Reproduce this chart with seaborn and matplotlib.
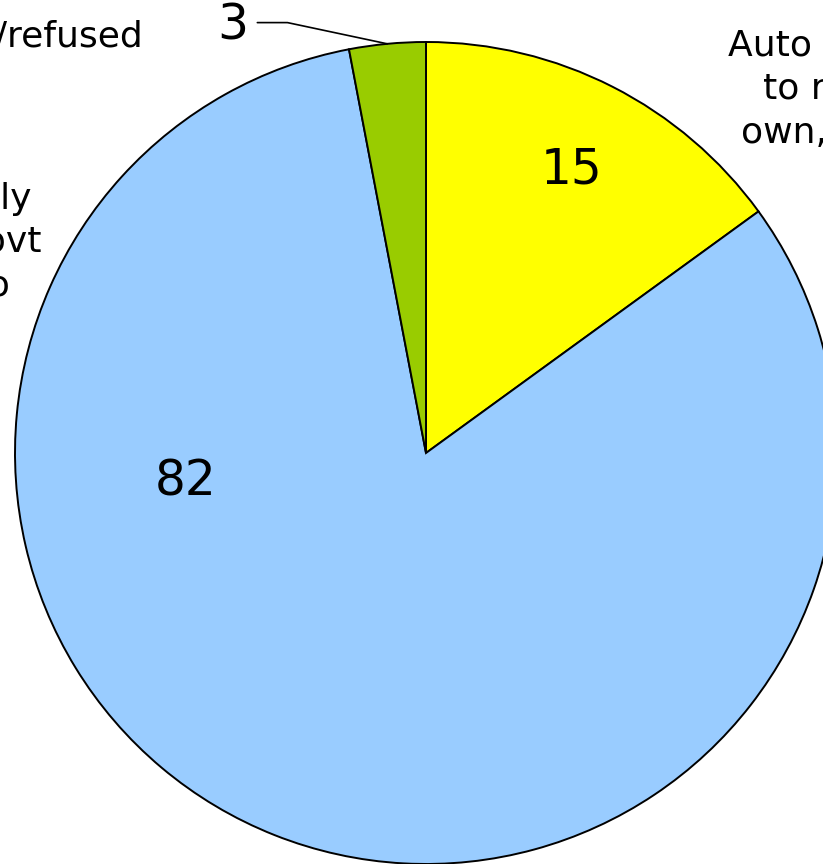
import numpy as np
import matplotlib
matplotlib.use("Agg")
import matplotlib.pyplot as plt
import seaborn as sns

# Pie data (clockwise from 12 o'clock)
categories = ["Auto enrolled\nto rely on\nown, saving", "Entirely\nthe Govt\nto do", "Don't know/refused"]
values = [15, 82, 3]
colors = ["#FFFF00", "#99CCFF", "#99CC00"]

sns.set_theme(style="white")
plt.rcParams["font.family"] = ["DejaVu Sans"]
plt.rcParams["text.color"] = "black"

W, H = 823, 864
fig = plt.figure(figsize=(W / 100, H / 100), dpi=100)
fig.patch.set_facecolor("white")
ax = fig.add_axes([0, 0, 1, 1])

wedges, _ = ax.pie(values, colors=colors, startangle=90, counterclock=False,
                   wedgeprops=dict(edgecolor="black", linewidth=1.4))

# pixel layout: centre at (426, 453) from top-left, radius 411 px
R = 411.0
cx, cy = 426.0, 453.0
ax.set_xlim(-cx / R, (W - cx) / R)
ax.set_ylim(-(H - cy) / R, cy / R)
ax.set_aspect("auto")
ax.axis("off")


def px(x, y):
    return (x - cx) / R, (cy - y) / R


# value labels
ax.text(*px(186, 481), str(values[1]), fontsize=35, ha="center", va="center")
ax.text(*px(572, 170), str(values[0]), fontsize=35, ha="center", va="center")

# small slice with leader line to the wedge edge
mid = np.deg2rad((wedges[2].theta1 + wedges[2].theta2) / 2)
ax.annotate(str(values[2]), xy=(np.cos(mid), np.sin(mid)), xytext=px(233, 25),
            fontsize=35, ha="center", va="center",
            arrowprops=dict(arrowstyle="-", color="black", lw=1.2,
                            connectionstyle="angle,angleA=0,angleB=-12,rad=0",
                            relpos=(1.0, 0.55), shrinkA=4, shrinkB=0))

# category labels (multi-line ones anchored on their last baseline)
ax.text(*px(143, 47), categories[2], fontsize=26, ha="right", va="baseline")
ax.text(*px(849, 143), categories[0], fontsize=26, ha="center", va="baseline",
        multialignment="center", linespacing=1.37)
ax.text(*px(-37, 295), categories[1], fontsize=26, ha="center", va="baseline",
        multialignment="center", linespacing=1.34)

fig.savefig("out.png", dpi=100, facecolor="white")
